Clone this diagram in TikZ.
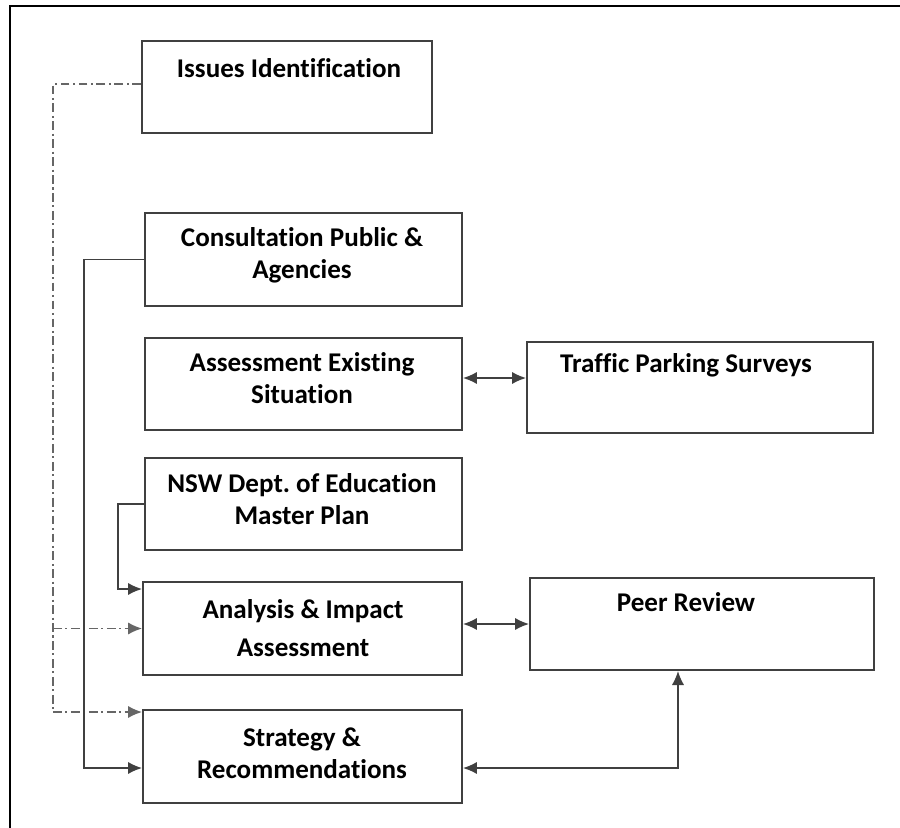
\documentclass[tikz,border=0pt]{standalone}
\usepackage{fontspec}
\setmainfont{Carlito}[Ligatures=NoCommon]
\usetikzlibrary{arrows.meta}

\begin{document}
\begin{tikzpicture}[x=0.02cm, y=-0.02cm, >={Latex[length=8pt,width=7pt]},
stagebox/.style={rectangle, draw=black!75, line width=1.1pt, inner sep=0pt},
stagetext/.style={align=center, font=\fontsize{15.4}{18}\selectfont\bfseries, inner sep=0pt},
link/.style={draw=black!75, line width=0.9pt},
dashlink/.style={draw=black!60, line width=0.9pt, dash pattern=on 5pt off 2pt on 1.2pt off 2pt}
]
    \useasboundingbox (0,0) rectangle (900,828);
    \draw[line width=1.4pt] (10,828) -- (10,6) -- (900,6);

    \node[stagebox, minimum width=5.8cm, minimum height=1.84cm] (issues) at (287,87){};
    \node[stagebox, minimum width=6.34cm, minimum height=1.86cm] (consult) at (303.5,259.5){};
    \node[stagebox, minimum width=6.34cm, minimum height=1.84cm] (assess) at (303.5,384){};
    \node[stagebox, minimum width=6.92cm, minimum height=1.82cm] (traffic) at (700,387.5){};
    \node[stagebox, minimum width=6.34cm, minimum height=1.84cm] (nsw) at (303.5,504){};
    \node[stagebox, minimum width=6.38cm, minimum height=1.86cm] (analysis) at (302.5,628.5){};
    \node[stagebox, minimum width=6.88cm, minimum height=1.84cm] (peer) at (702,624){};
    \node[stagebox, minimum width=6.38cm, minimum height=1.86cm] (strategy) at (302.5,756.5){};

    \node[stagetext] (issuestxt) at (289,68){Issues Identification};
    \node[stagetext] (consulttxt) at (302,255){Consultation Public \&\\Agencies};
    \node[stagetext] (assesstxt) at (302,378){Assessment Existing\\Situation};
    \node[stagetext] (traffictxt) at (686,365){Traffic Parking Surveys};
    \node[stagetext] (nswtxt) at (302,499){NSW Dept.\ of Education\\Master Plan};
    \node[stagetext] (analysistxt) at (303,628){Analysis \& Impact\\[4pt]Assessment};
    \node[stagetext] (peertxt) at (686,602){Peer Review};
    \node[stagetext] (strategytxt) at (302,753){Strategy \&\\Recommendations};

    \coordinate (ddtop) at (53,84);
    \coordinate (ddbot) at (53,712);
    \coordinate (cbot) at (84,768);
    \coordinate (nbot) at (118,589);
    \coordinate (atl) at (495,378);
    \coordinate (pcorner) at (678,768);

    \draw[dashlink] (issues.west |- ddtop) -- (ddtop) -- (ddbot);
    \draw[dashlink,->] (ddtop |- analysis.west) -- (analysis.west);
    \draw[dashlink,->] (ddbot) -- (ddbot -| strategy.west);

    \draw[link,->] (consult.west) -| (cbot) -- (cbot -| strategy.west);
    \draw[link,->] (nsw.west) -| (nbot) -- (nbot -| analysis.west);

    \draw[link,<->] (atl -| assess.east) -- (atl -| traffic.west);
    \draw[link,<->] (analysis.east |- peer.west) -- (peer.west);
    \draw[link,<->] (pcorner -| strategy.east) -| (pcorner |- peer.south);
\end{tikzpicture}
\end{document}
